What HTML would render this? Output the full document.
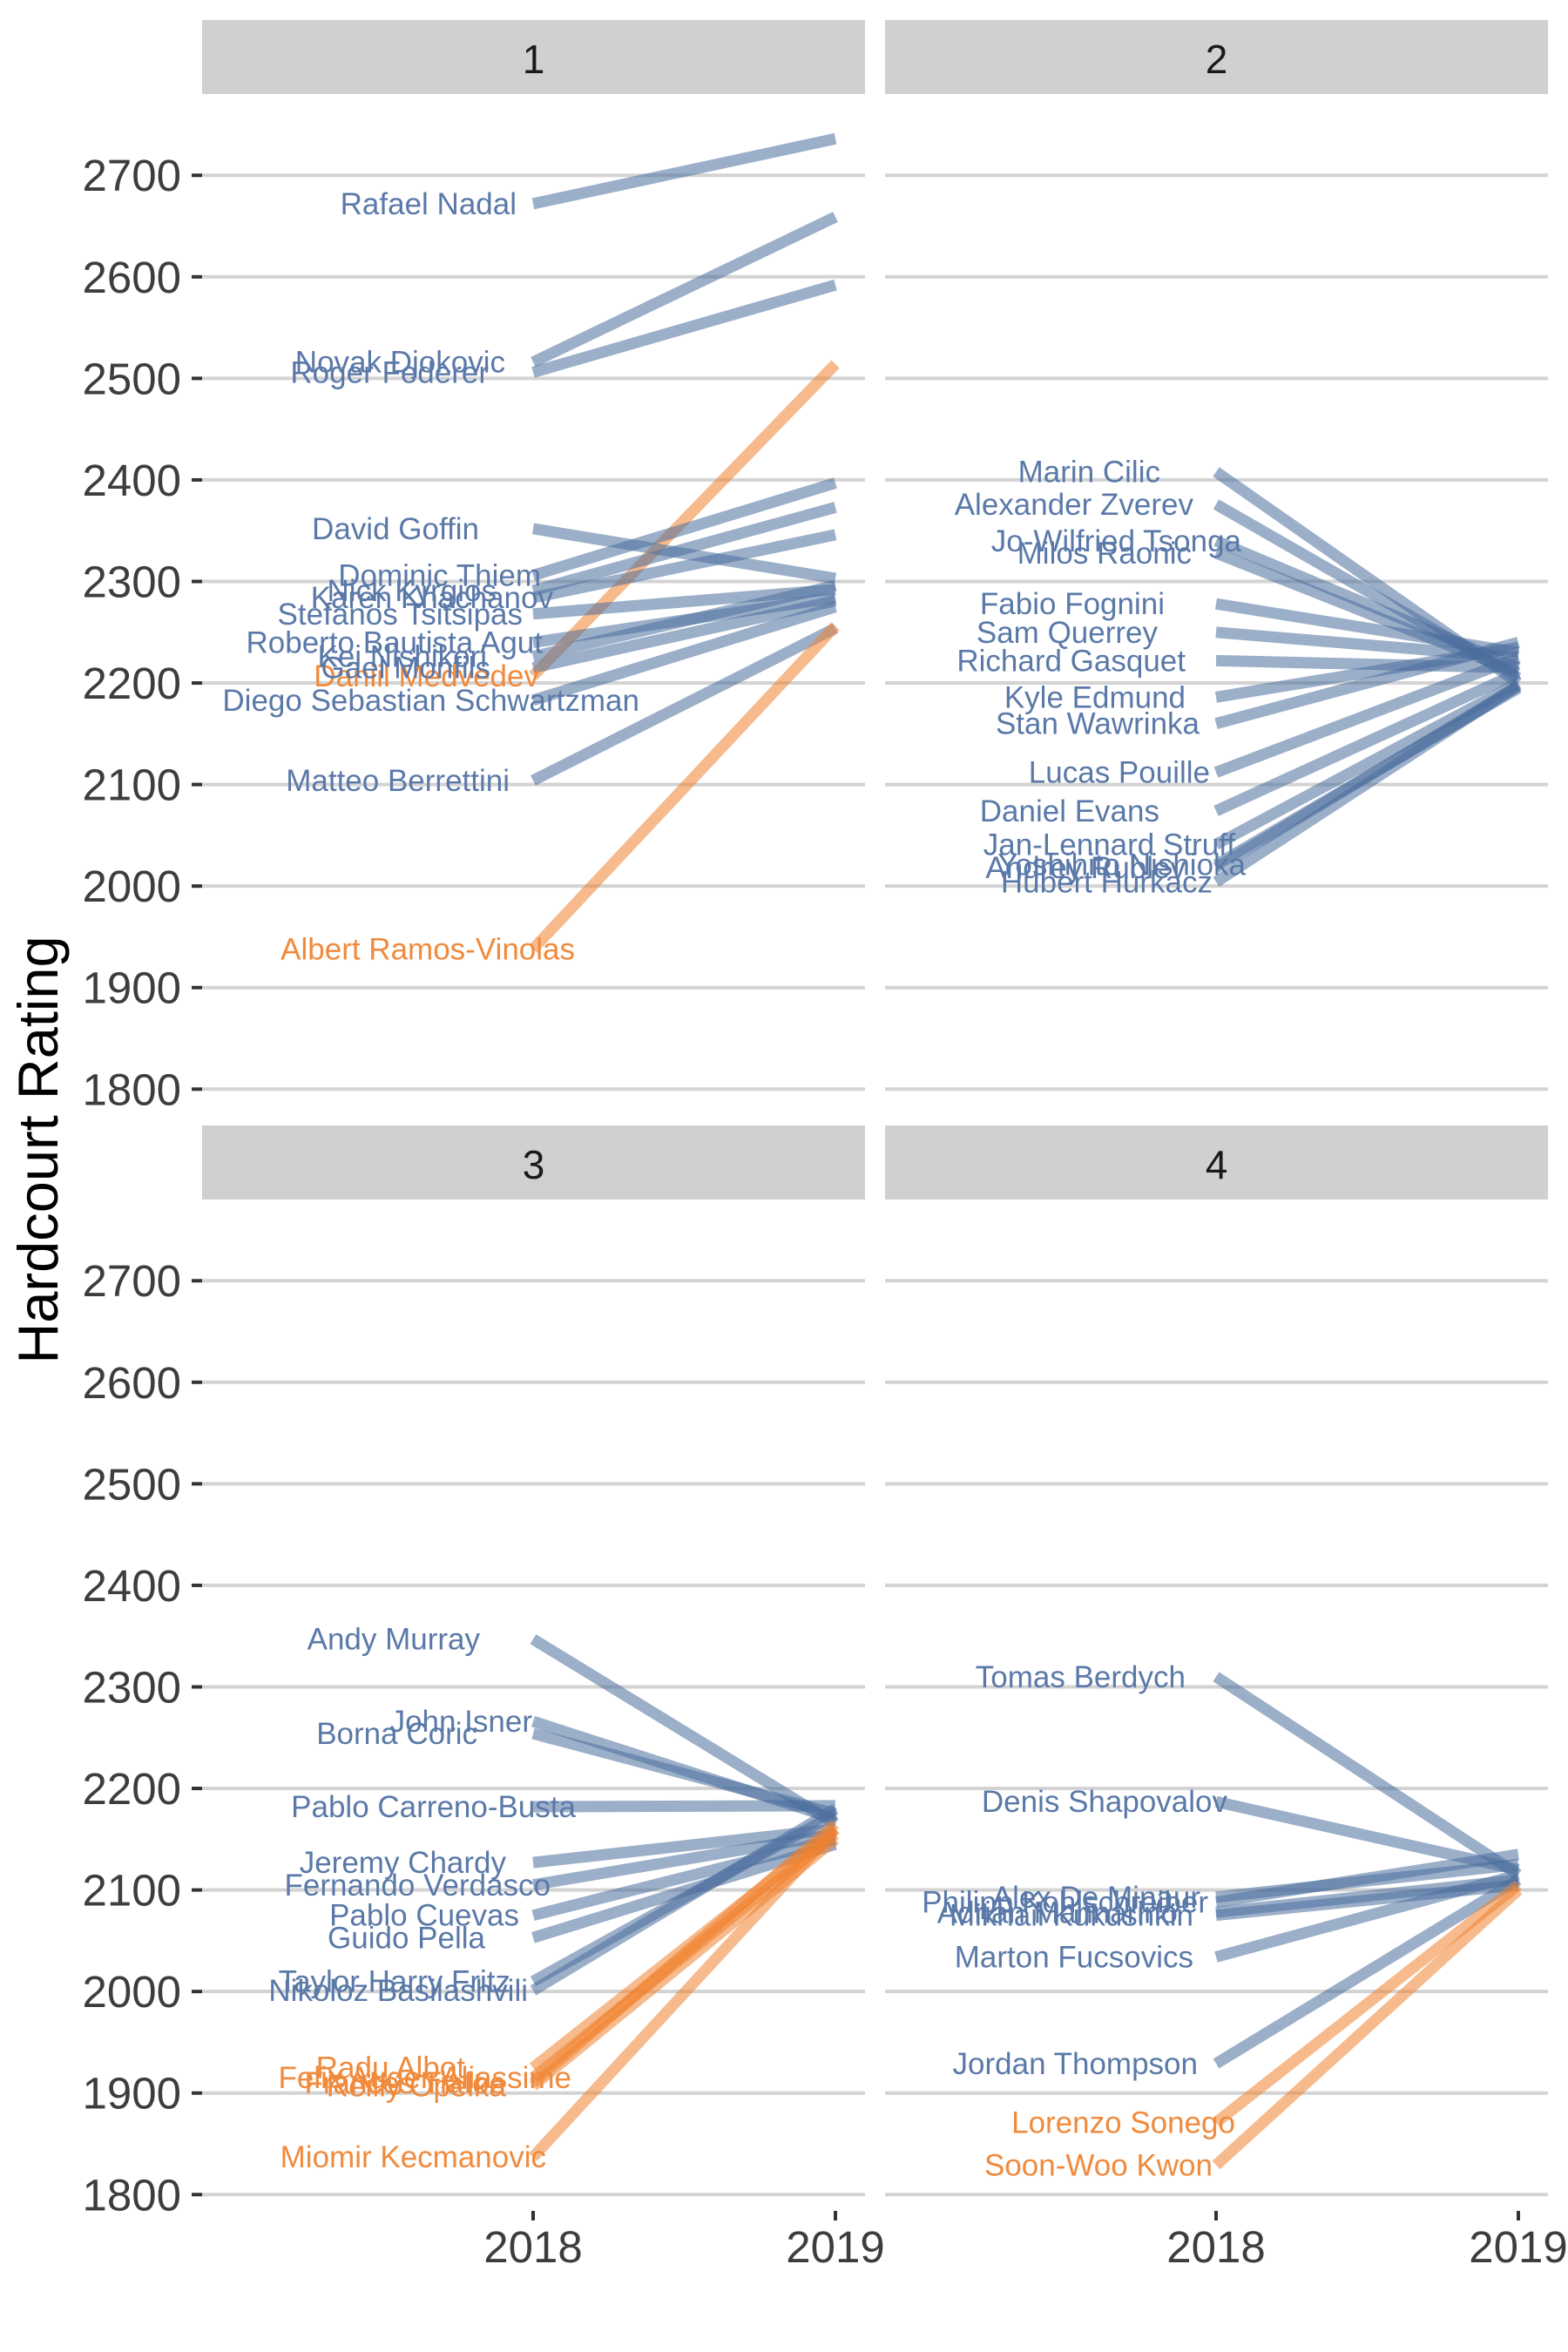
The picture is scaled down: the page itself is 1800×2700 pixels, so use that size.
<!DOCTYPE html>
<html><head><meta charset="utf-8"><style>
html,body{margin:0;padding:0;background:#fff;}
svg{display:block;}
text{font-family:"Liberation Sans",Arial,sans-serif;}
</style></head><body>
<svg id="chart" width="1800" height="2700" viewBox="0 0 1800 2700" xmlns="http://www.w3.org/2000/svg"></svg>
<script>
// ---- data ----
const panelIds = ["1","2","3","4"];
const p1Names = ["Rafael Nadal","Novak Djokovic","Roger Federer","Daniil Medvedev","David Goffin","Dominic Thiem","Nick Kyrgios","Karen Khachanov","Stefanos Tsitsipas","Roberto Bautista Agut","Kei Nishikori","Gael Monfils","Diego Sebastian Schwartzman","Matteo Berrettini","Albert Ramos-Vinolas"];
const p1Start = [2672,2516,2506,2207,2352,2306,2291,2284,2268,2240,2226,2215,2183,2104,1938];
const p1End   = [2736,2659,2592,2514,2303,2397,2373,2346,2292,2284,2296,2281,2275,2254,2256];
const p1Orange= [0,0,0,1,0,0,0,0,0,0,0,0,0,0,1];
const p2Names = ["Marin Cilic","Alexander Zverev","Jo-Wilfried Tsonga","Milos Raonic","Fabio Fognini","Sam Querrey","Richard Gasquet","Kyle Edmund","Stan Wawrinka","Lucas Pouille","Daniel Evans","Jan-Lennard Struff","Andrey Rublev","Yoshihito Nishioka","Hubert Hurkacz"];
const p2Start = [2408,2376,2340,2328,2278,2250,2222,2186,2160,2112,2074,2041,2018,2021,2004];
const p2End   = [2200,2205,2215,2210,2230,2225,2215,2235,2240,2225,2210,2200,2197,2195,2198];
const p2Orange= [0,0,0,0,0,0,0,0,0,0,0,0,0,0,0];
const p3Names = ["Andy Murray","John Isner","Borna Coric","Pablo Carreno-Busta","Jeremy Chardy","Fernando Verdasco","Pablo Cuevas","Guido Pella","Taylor Harry Fritz","Nikoloz Basilashvili","Radu Albot","Felix Auger-Aliassime","Reilly Opelka","Frances Tiafoe","Miomir Kecmanovic"];
const p3Start = [2347,2266,2254,2182,2127,2105,2075,2053,2010,2001,1925,1915,1907,1910,1837];
const p3End   = [2165,2170,2175,2183,2160,2155,2150,2145,2175,2180,2160,2155,2150,2165,2160];
const p3Orange= [0,0,0,0,0,0,0,0,0,0,1,1,1,1,1];
const p4Names = ["Tomas Berdych","Denis Shapovalov","Alex De Minaur","Philipp Kohlschreiber","Adrian Mannarino","Mikhail Kukushkin","Marton Fucsovics","Jordan Thompson","Lorenzo Sonego","Soon-Woo Kwon"];
const p4Start = [2310,2187,2093,2088,2078,2075,2034,1929,1871,1829];
const p4End   = [2115,2120,2125,2135,2110,2105,2115,2110,2105,2100];
const p4Orange= [0,0,0,0,0,0,0,0,1,1];
const yTicks = [1800,1900,2000,2100,2200,2300,2400,2500,2600,2700];
const xTicks = ["2018","2019"];

// ---- label nudges (repel offsets, px) ----
const p1Dx=[3,-10,-29,29,-40,31,-20,45,10,33,-31,-27,144,-5,70];
const p2Dx=[-14,24,79,22,-9,-17,15,15,31,43,-15,72,15,84,46];
const p3Dx=[-33,27,-36,77,-3,48,12,-27,2,22,-50,72,-3,-3,43];
const p4Dx=[0,48,17,26,-9,9,9,14,57,31];

// ---- layout ----
const NS="http://www.w3.org/2000/svg";
const svg=document.getElementById("chart");
function el(tag,attrs,parent){const e=document.createElementNS(NS,tag);for(const k in attrs)e.setAttribute(k,attrs[k]);(parent||svg).appendChild(e);return e;}
const panelsX=[232,1016,232,1016], panelW=761;
const panelsTop=[108,108,1377,1377];
const stripTop=[23,23,1292,1292];
const yMax=2780, kY=1.1656;
function yScale(p,v){return panelsTop[p]+(yMax-v)*kY;}
function xScale(p,i){return panelsX[p]+(i===0?380:727);}
const labelOff=[-22,-50,-28,-35];
const datasets=[[p1Names,p1Start,p1End,p1Orange,p1Dx],[p2Names,p2Start,p2End,p2Orange,p2Dx],[p3Names,p3Start,p3End,p3Orange,p3Dx],[p4Names,p4Start,p4End,p4Orange,p4Dx]];

el("text",{x:0,y:0,"font-size":65,fill:"#000","text-anchor":"middle",transform:"translate(66,1320) rotate(-90)",}).textContent="Hardcourt Rating";

for(let p=0;p<4;p++){
  const g=el("g",{});
  el("rect",{x:panelsX[p],y:stripTop[p],width:panelW,height:85,fill:"#d0d0d0",},g);
  el("text",{x:panelsX[p]+panelW/2,y:stripTop[p]+61,"font-size":46,fill:"#1a1a1a","text-anchor":"middle",},g).textContent=panelIds[p];
  yTicks.forEach(t=>{
    const y=yScale(p,t);
    el("line",{x1:panelsX[p],x2:panelsX[p]+panelW,y1:y,y2:y,stroke:"#d3d3d3","stroke-width":4,},g);
    if(p%2===0){
      el("line",{x1:220,x2:232,y1:y,y2:y,stroke:"#333","stroke-width":4,},g);
      el("text",{x:208,y:y+18,"font-size":51,fill:"#3d3d3d","text-anchor":"end",},g).textContent=t;
    }
  });
  if(p>=2){
    xTicks.forEach((lab,i)=>{
      const x=xScale(p,i);
      el("line",{x1:x,x2:x,y1:2538,y2:2549,stroke:"#333","stroke-width":4,},g);
      el("text",{x:x,y:2597,"font-size":51,fill:"#3d3d3d","text-anchor":"middle",},g).textContent=lab;
    });
  }
  const [names,s,e,o,dx]=datasets[p];
  names.forEach((n,i)=>{
    const ln=el("line",{x1:xScale(p,0),y1:yScale(p,s[i]),x2:xScale(p,1),y2:yScale(p,e[i]),stroke:o[i]?"#f0822e":"#4a6d9c","stroke-opacity":0.55,"stroke-width":13},g);
    
    
  });
  names.forEach((n,i)=>{
    const tx=el("text",{x:xScale(p,0)+labelOff[p]+dx[i],y:yScale(p,s[i])+12,"font-size":35,fill:o[i]?"#f08a3c":"#5a79a8","text-anchor":"end"},g);
    
    
    tx.textContent=n;
  });
}
</script>
</body></html>
